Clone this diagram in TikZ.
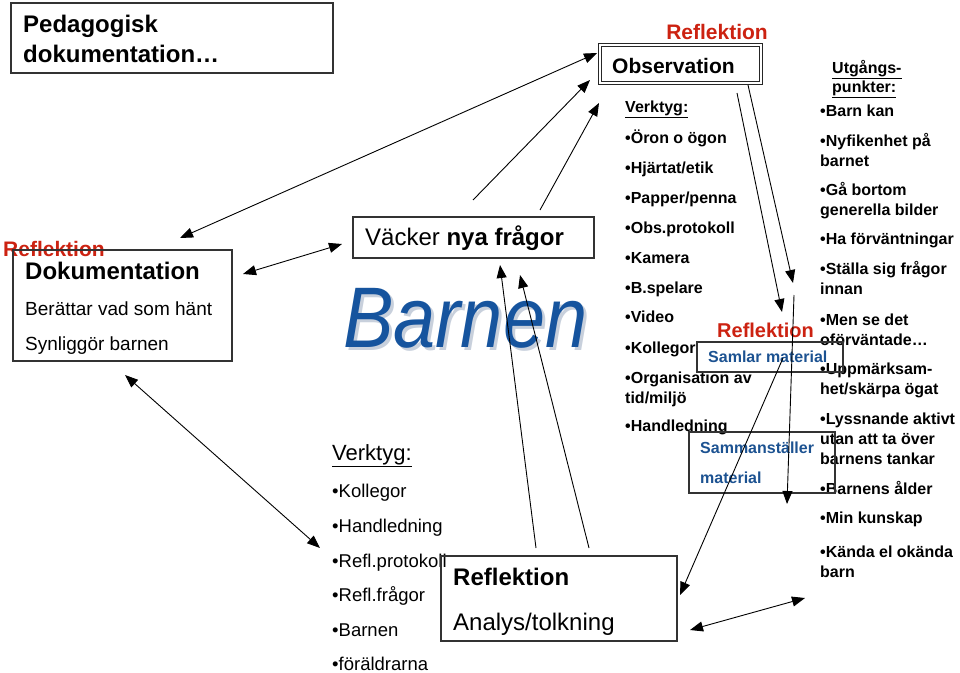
\documentclass[tikz,border=0pt]{standalone}
\usepackage{fontspec}
\setmainfont{Liberation Sans}
\usetikzlibrary{arrows.meta}
\definecolor{refred}{RGB}{204,34,17}
\definecolor{matblue}{RGB}{28,82,145}
\definecolor{barnblue}{RGB}{22,84,158}
\definecolor{shadowgray}{RGB}{200,208,220}
\newcommand{\fs}[1]{\fontsize{#1}{#1}\selectfont}
\begin{document}
\begin{tikzpicture}[x=1pt,y=-1pt,
  box/.style={draw=black!80, line width=1.1pt},
  tx/.style={inner sep=0pt, anchor=base west},
  tipk/.tip={Triangle[length=13pt,width=10pt]},
  arr/.style={line width=0.9pt, -tipk},
  darr/.style={line width=0.9pt, tipk-tipk},
  big/.style={tx, font=\fs{24}},
  bigb/.style={tx, font=\fs{24}\bfseries},
  red/.style={tx, font=\fs{21}\bfseries, text=refred},
  item/.style={tx, font=\fs{16}\bfseries},
  litem/.style={tx, font=\fs{18.5}},
  mat/.style={tx, font=\fs{16}\bfseries, text=matblue}]
\useasboundingbox (0,0) rectangle (960,672);

% ---------- Pedagogisk dokumentation
\draw[box] (11,3) rectangle (333,73);
\node[bigb] (ped1) at (23,32) {Pedagogisk};
\node[bigb] (ped2) at (23,62) {dokumentation…};

% ---------- Dokumentation box
\node[red] (refl1) at (3,256) {Reflektion};
\draw[box] (13,250) rectangle (232,361);
\node[bigb] (dok) at (25,279) {Dokumentation};
\node[tx, font=\fs{19}] (ber) at (25,315) {Berättar vad som hänt};
\node[tx, font=\fs{19}] (syn) at (25,350) {Synliggör barnen};

% ---------- Väcker nya frågor
\draw[box] (353,217) rectangle (594,258);
\node[big] (vack) at (365,245) {Väcker \textbf{nya frågor}};

% ---------- Barnen (with soft shadow)
\node[tx, font=\fs{86}\itshape, text=barnblue] (barn) at (343,347)
  {\makebox[0pt][l]{\raisebox{-3pt}{\hspace{3pt}\textcolor{shadowgray}{\scalebox{0.88}[1]{Barnen}}}}\scalebox{0.88}[1]{Barnen}};

% ---------- Left tools
\node[tx, font=\fs{22}] (lverk) at (332,460) {\underline{Verktyg:}};
\node[litem] (l1) at (332,497) {•Kollegor};
\node[litem] (l2) at (332,532) {•Handledning};
\node[litem] (l3) at (332,567) {•Refl.protokoll};
\node[litem] (l4) at (332,601) {•Refl.frågor};
\node[litem] (l5) at (332,636) {•Barnen};
\node[litem] (l6) at (332,670) {•föräldrarna};

% ---------- Analys box
\draw[box] (441,556) rectangle (677,641);
\node[bigb] (anr) at (453,585) {Reflektion};
\node[big] (ana) at (453,630) {Analys/tolkning};

% ---------- Observation
\node[red, anchor=base] (refl2) at (717,39) {Reflektion};
\draw[draw=black!85, line width=1pt, double=white, double distance=2pt] (600,45) rectangle (761,83);
\node[tx, font=\fs{21}\bfseries] (obs) at (612,73) {Observation};

% ---------- Middle tools
\node[item] (mverk) at (625,112) {\underline{Verktyg:}};
\node[item] (m1) at (625,143) {•Öron o ögon};
\node[item] (m2) at (625,173) {•Hjärtat/etik};
\node[item] (m3) at (625,203) {•Papper/penna};
\node[item] (m4) at (625,233) {•Obs.protokoll};
\node[item] (m5) at (625,263) {•Kamera};
\node[item] (m6) at (625,293) {•B.spelare};
\node[item] (m7) at (625,322) {•Video};
\node[item] (m8) at (625,353) {•Kollegor};
\node[item] (m9) at (625,383) {•Organisation av};
\node[item] (m9b) at (625,403) {tid/miljö};
\node[item] (m10) at (625,431) {•Handledning};

% ---------- Right column
\node[item] (ut1) at (832,73) {\underline{Utgångs-}};
\node[item] (ut2) at (832,92) {\underline{punkter:}};
\node[item] (r1) at (820,116) {•Barn kan};
\node[item] (r2) at (820,146) {•Nyfikenhet på};
\node[item] (r2b) at (820,166) {barnet};
\node[item] (r3) at (820,195) {•Gå bortom};
\node[item] (r3b) at (820,215) {generella bilder};
\node[item] (r4) at (820,244) {•Ha förväntningar};
\node[item] (r5) at (820,274) {•Ställa sig frågor};
\node[item] (r5b) at (820,294) {innan};
\node[item] (r6) at (820,325) {•Men se det};
\node[item] (r6b) at (820,345) {oförväntade…};
\node[item] (r7) at (820,374) {•Uppmärksam-};
\node[item] (r7b) at (820,394) {het/skärpa ögat};
\node[item] (r8) at (820,424) {•Lyssnande aktivt};
\node[item] (r8b) at (820,444) {utan att ta över};
\node[item] (r8c) at (820,464) {barnens tankar};
\node[item] (r9) at (820,494) {•Barnens ålder};
\node[item] (r10) at (820,523) {•Min kunskap};
\node[item] (r11) at (820,557) {•Kända el okända};
\node[item] (r11b) at (820,577) {barn};

% ---------- Samlar / Sammanställer
\node[tx, font=\fs{20}\bfseries, text=refred] (refl3) at (717,337) {Reflektion};
\draw[box] (697,342) rectangle (843,372);
\node[mat] (sam) at (708,362) {Samlar material};
\draw[box] (689,432) rectangle (835,493);
\node[mat] (sst1) at (700,453) {Sammanställer};
\node[mat] (sst2) at (700,483) {material};

% ---------- connector end points
\coordinate (aA1) at (180,238); \coordinate (aA2) at (597,53);
\coordinate (aB1) at (473,200); \coordinate (aB2) at (590,80);
\coordinate (aC1) at (540,210); \coordinate (aC2) at (599,103);
\coordinate (aD1) at (243,274); \coordinate (aD2) at (342,244);
\coordinate (aE1) at (536,548); \coordinate (aE2) at (500,265);
\coordinate (aF1) at (589,548); \coordinate (aF2) at (520,275);
\coordinate (aG1) at (125,375); \coordinate (aG2) at (320,548);
\coordinate (aH1) at (737,93);  \coordinate (aH2) at (782,312);
\coordinate (aI1) at (748,85);  \coordinate (aI2) at (793,283);
\coordinate (aJ1) at (794,295); \coordinate (aJ2) at (787,504);
\coordinate (aK1) at (783,358); \coordinate (aK2) at (680,595);
\coordinate (aL1) at (690,630); \coordinate (aL2) at (805,598);

\draw[darr] (aA1) -- (aA2);
\draw[arr] (aB1) -- (aB2);
\draw[arr] (aC1) -- (aC2);
\draw[darr] (aD1) -- (aD2);
\draw[arr] (aE1) -- (aE2);
\draw[arr] (aF1) -- (aF2);
\draw[darr] (aG1) -- (aG2);
\draw[arr] (aH1) -- (aH2);
\draw[arr] (aI1) -- (aI2);
\draw[arr] (aJ1) -- (aJ2);
\draw[arr] (aK1) -- (aK2);
\draw[darr] (aL1) -- (aL2);
\end{tikzpicture}
\end{document}
